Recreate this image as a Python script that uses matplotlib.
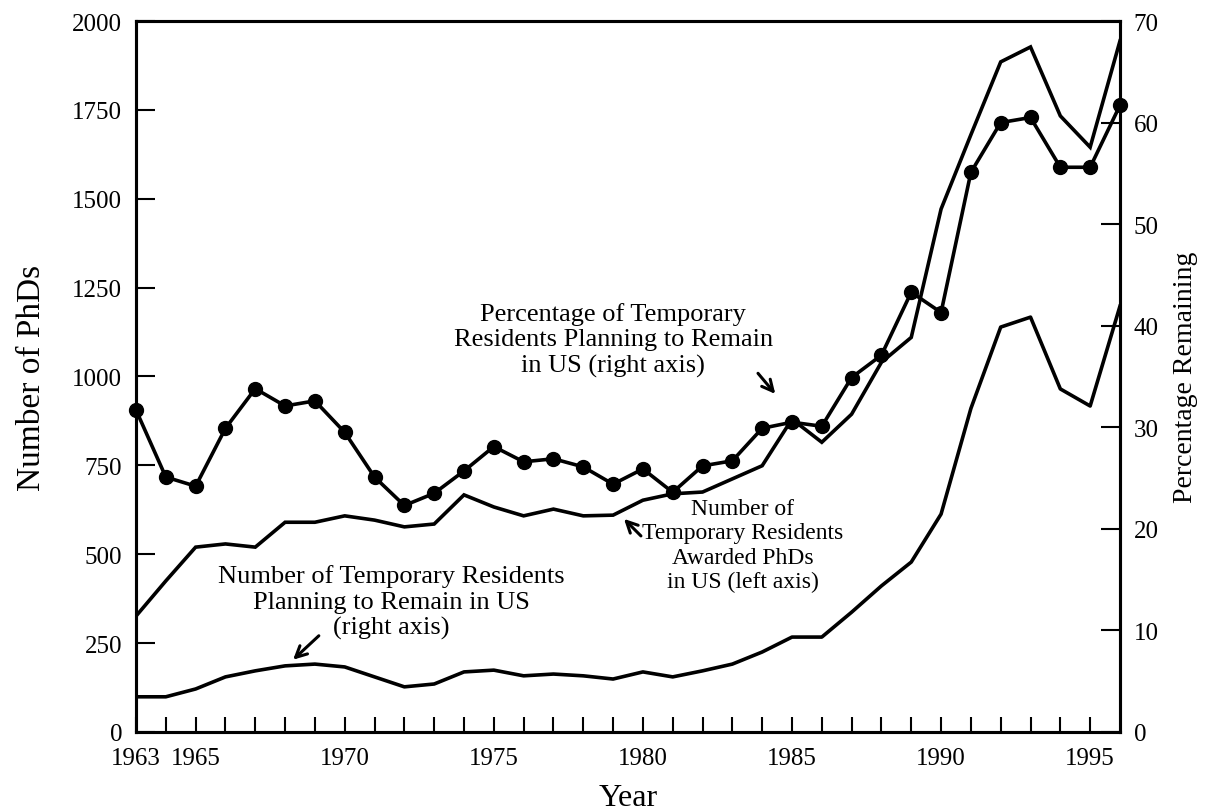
import numpy as np
import matplotlib.pyplot as plt

plt.rcParams['font.family'] = ['Liberation Serif', 'DejaVu Serif']

years = list(range(1963, 1997))

# number of temporary residents awarded PhDs in US (left axis)
awarded = [326, 425, 520, 529, 520, 590, 590, 608, 596, 577, 585, 667, 633, 608,
           627, 608, 610, 652, 670, 675, 712, 749, 880, 815, 894, 1040, 1110,
           1471, 1680, 1885, 1927, 1733, 1645, 1944]

# number planning to remain in US
remain = [99, 99, 121, 155, 172, 186, 191, 183, 155, 127, 135, 169, 174, 158,
          163, 158, 149, 169, 155, 172, 191, 225, 267, 267, 337, 411, 478,
          613, 910, 1139, 1167, 965, 917, 1198]

# percentage planning to remain (right axis)
pct = [31.7, 25.1, 24.2, 29.9, 33.8, 32.1, 32.6, 29.5, 25.1, 22.3, 23.5, 25.7,
       28.1, 26.6, 26.9, 26.1, 24.4, 25.9, 23.6, 26.2, 26.7, 29.9, 30.5, 30.1,
       34.9, 37.1, 43.3, 41.3, 55.1, 60.0, 60.5, 55.6, 55.6, 61.7]

fig = plt.figure(figsize=(12.1, 8.12), dpi=100)
ax = fig.add_axes([0.1124, 0.0973, 0.8132, 0.8756])
ax2 = ax.twinx()

ax.plot(years, awarded, color='black', lw=2.6, solid_joinstyle='miter')
ax.plot(years, remain, color='black', lw=2.6)
ax2.plot(years, pct, color='black', lw=2.6, marker='o', markersize=10, clip_on=False)

ax.set_xlim(1963, 1996)
ax.set_ylim(0, 2000)
ax2.set_ylim(0, 70)

ax.set_xticks([1963, 1965, 1970, 1975, 1980, 1985, 1990, 1995])
ax.set_xticks(range(1964, 1996), minor=True)
ax.set_yticks(range(0, 2001, 250))
ax2.set_yticks(range(0, 71, 10))

ax.tick_params(axis='x', direction='in', length=11, width=1.5, labelsize=18, pad=11)
ax.tick_params(axis='x', which='minor', direction='in', length=11, width=1.5)
ax.tick_params(axis='y', direction='in', length=14, width=1.5, labelsize=18, pad=10)
ax2.tick_params(axis='y', direction='in', length=14, width=1.5, labelsize=18, pad=10)

for a in (ax, ax2):
    for s in a.spines.values():
        s.set_linewidth(2.2)

ax.set_xlabel('Year', fontsize=23, labelpad=10)
ax.set_ylabel('Number of PhDs', fontsize=24, labelpad=18)
ax2.set_ylabel('Percentage Remaining', fontsize=20, labelpad=10)

# annotations
ax.text(1979.0, 1105, 'Percentage of Temporary\nResidents Planning to Remain\nin US (right axis)',
        ha='center', va='center', fontsize=19, linespacing=1.2)
ax.annotate('', xy=(1984.5, 945), xytext=(1983.8, 1015),
            arrowprops=dict(arrowstyle='->', color='black', lw=2.2, mutation_scale=20))

ax.text(1983.35, 526, 'Number of\nTemporary Residents\nAwarded PhDs\nin US (left axis)',
        ha='center', va='center', fontsize=17, linespacing=1.2)
ax.annotate('', xy=(1979.3, 605), xytext=(1980.0, 546),
            arrowprops=dict(arrowstyle='->', color='black', lw=2.2, mutation_scale=20))

ax.text(1971.55, 366, 'Number of Temporary Residents\nPlanning to Remain in US\n(right axis)',
        ha='center', va='center', fontsize=19, linespacing=1.2)
ax.annotate('', xy=(1968.2, 198), xytext=(1969.2, 276),
            arrowprops=dict(arrowstyle='->', color='black', lw=2.2, mutation_scale=20))

fig.savefig('out.png', dpi=100)
